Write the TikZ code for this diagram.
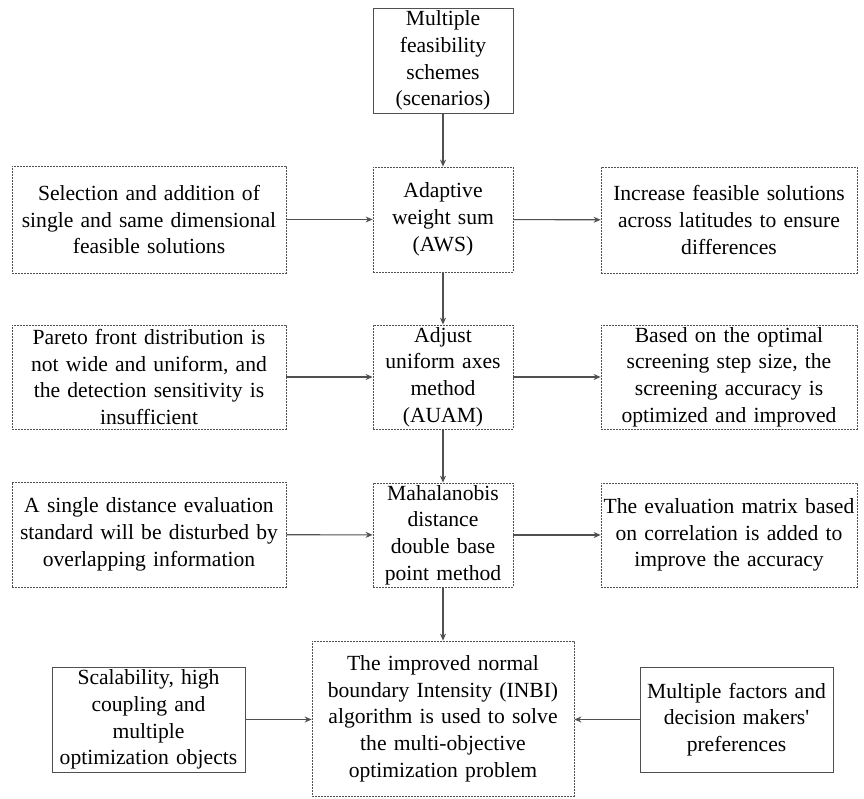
\documentclass[tikz,border=0pt]{standalone}
\usepackage{fontspec}
\setmainfont{Liberation Serif}[Ligatures=TeXOff]
\usetikzlibrary{arrows.meta}
\definecolor{linegray}{HTML}{505050}
\tikzset{
  box/.style={draw=linegray, line width=1pt, fill=white, align=center, inner sep=0pt,
    font=\fontsize{21.6}{26.7}\selectfont, text=black},
  solidbox/.style={box},
  dotbox/.style={box, line width=0.8pt, dash pattern=on 2pt off 1pt},
  conn/.style={draw=linegray, line width=1.1pt, -{Stealth[length=7pt,width=6pt]}},
}
\begin{document}
\begin{tikzpicture}[x=1pt,y=-1pt]
\useasboundingbox (0,0) rectangle (864,798);
% top
\node[solidbox, minimum width=140pt, minimum height=105pt, text width=136pt] (top) at (443,60.5)
  {Multiple\\feasibility\\schemes\\(scenarios)};
% row 1
\node[dotbox, minimum width=140pt, minimum height=105pt, text width=136pt] (aws) at (443,219.5)
  {Adaptive\\weight sum\\(AWS)};
\node[dotbox, minimum width=274pt, minimum height=107pt, text width=270pt] (l1) at (149,219.5)
  {Selection and addition of\\single and same dimensional\\feasible solutions};
\node[dotbox, minimum width=256pt, minimum height=106pt, text width=252pt] (r1) at (729,220)
  {Increase feasible solutions\\across latitudes to ensure\\differences};
% row 2
\node[dotbox, minimum width=140pt, minimum height=104pt, text width=136pt] (auam) at (443,377)
  {Adjust\\uniform axes\\method\\(AUAM)};
\node[dotbox, minimum width=274pt, minimum height=104pt, text width=270pt] (l2) at (149,377)
  {Pareto front distribution is\\not wide and uniform, and\\the detection sensitivity is\\insufficient};
\node[dotbox, minimum width=256pt, minimum height=104pt, text width=252pt] (r2) at (729,377)
  {Based on the optimal\\screening step size, the\\screening accuracy is\\optimized and improved};
% row 3
\node[dotbox, minimum width=140pt, minimum height=104pt, text width=136pt] (mah) at (443,535)
  {Mahalanobis\\distance\\double base\\point method};
\node[dotbox, minimum width=274pt, minimum height=105pt, text width=270pt] (l3) at (149,534.5)
  {A single distance evaluation\\standard will be disturbed by\\overlapping information};
\node[dotbox, minimum width=256pt, minimum height=104pt, text width=252pt] (r3) at (729,535)
  {The evaluation matrix based\\on correlation is added to\\improve the accuracy};
% row 4
\node[dotbox, minimum width=262pt, minimum height=155pt, text width=258pt] (inbi) at (443,718.5)
  {The improved normal\\boundary Intensity (INBI)\\algorithm is used to solve\\the multi-objective\\optimization problem};
\node[solidbox, minimum width=193pt, minimum height=105pt, text width=190pt] (sc) at (148.5,719.5)
  {Scalability, high\\coupling and\\multiple\\optimization objects};
\node[solidbox, minimum width=193pt, minimum height=105pt, text width=190pt] (mf) at (736.5,719.5)
  {Multiple factors and\\decision makers'\\preferences};
% connectors
\draw[conn] (top) -- (aws);
\draw[conn] (aws) -- (auam);
\draw[conn] (auam) -- (mah);
\draw[conn] (mah) -- (inbi);
\draw[conn] (l1) -- (aws);
\draw[conn] (aws) -- (r1);
\draw[conn] (l2) -- (auam);
\draw[conn] (auam) -- (r2);
\draw[conn] (l3) -- (mah);
\draw[conn] (mah) -- (r3);
\draw[conn] (sc) -- (sc -| inbi.west);
\draw[conn] (mf) -- (mf -| inbi.east);
\end{tikzpicture}
\end{document}
